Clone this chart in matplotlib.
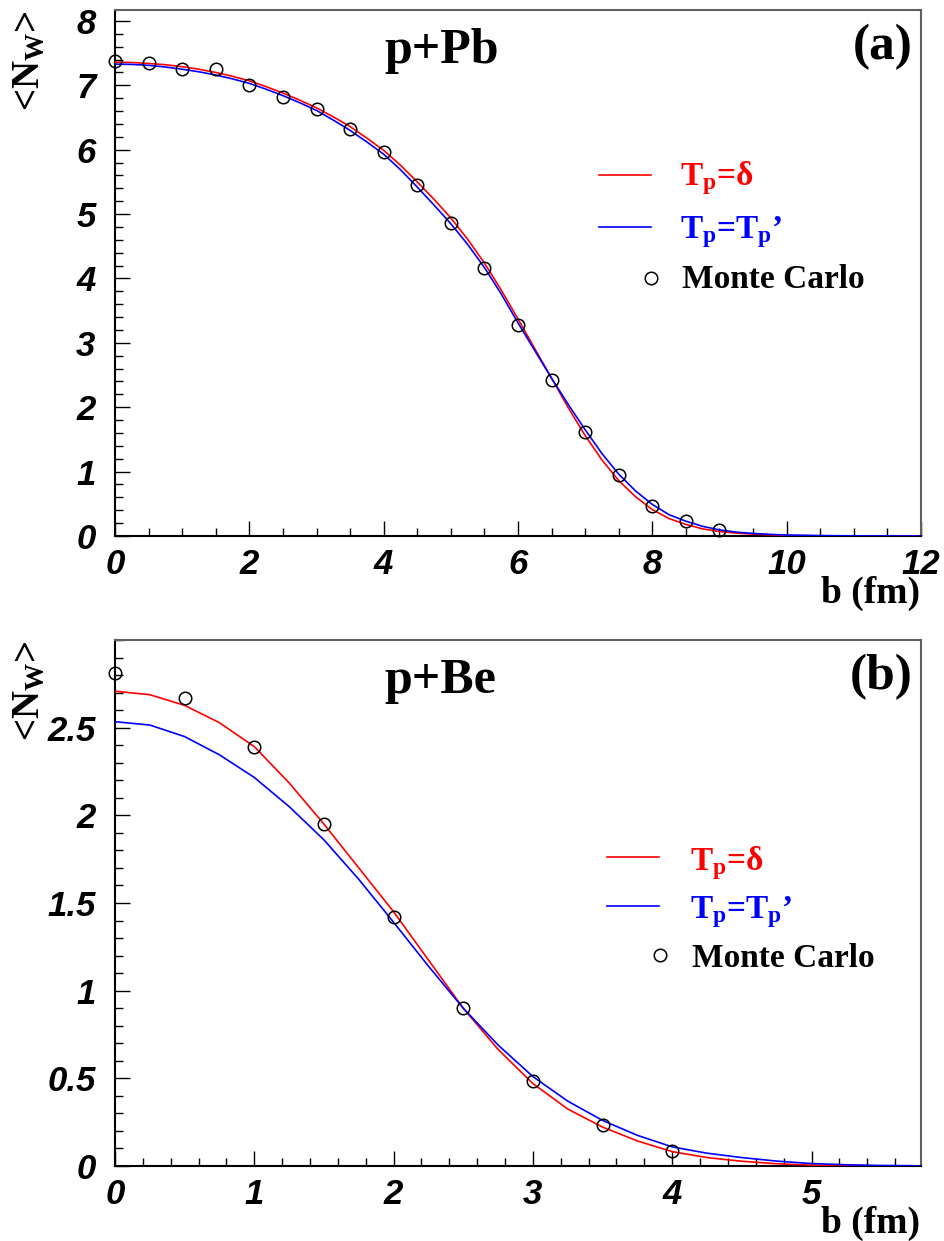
import matplotlib
matplotlib.use("Agg")
import matplotlib.pyplot as plt
from matplotlib.ticker import MultipleLocator, FixedLocator, FormatStrFormatter
from matplotlib.lines import Line2D

# ---------------- data ----------------
# p+Pb : mean number of wounded nucleons vs impact parameter
b_pb = [0, 0.25, 0.5, 0.75, 1.0, 1.25, 1.5, 1.75, 2.0, 2.25, 2.5, 2.75, 3.0, 3.25,
        3.5, 3.75, 4.0, 4.25, 4.5, 4.75, 5.0, 5.25, 5.5, 5.75, 6.0, 6.25, 6.5, 6.75,
        7.0, 7.25, 7.5, 7.75, 8.0, 8.25, 8.5, 8.75, 9.0, 9.25, 9.5, 9.75, 10.0, 10.5,
        11.0, 12.0]
nw_pb_delta = [7.36, 7.355, 7.34, 7.32, 7.29, 7.25, 7.20, 7.14, 7.07, 6.98, 6.88, 6.77,
               6.65, 6.51, 6.36, 6.18, 5.99, 5.76, 5.50, 5.23, 4.94, 4.61, 4.24, 3.82,
               3.37, 2.91, 2.45, 1.99, 1.56, 1.18, 0.86, 0.61, 0.41, 0.27, 0.18, 0.11,
               0.07, 0.045, 0.03, 0.018, 0.01, 0.003, 0.001, 0.0]
nw_pb_prof = [7.33, 7.325, 7.31, 7.285, 7.25, 7.21, 7.16, 7.10, 7.03, 6.94, 6.84, 6.73,
              6.61, 6.46, 6.30, 6.12, 5.93, 5.69, 5.42, 5.14, 4.85, 4.53, 4.17, 3.76,
              3.31, 2.88, 2.45, 2.04, 1.65, 1.28, 0.96, 0.70, 0.49, 0.33, 0.23, 0.15,
              0.095, 0.06, 0.04, 0.025, 0.015, 0.006, 0.002, 0.0]
b_pb_mc = [0, 0.5, 1.0, 1.5, 2.0, 2.5, 3.0, 3.5, 4.0, 4.5, 5.0, 5.5, 6.0, 6.5, 7.0,
           7.5, 8.0, 8.5, 9.0]
nw_pb_mc = [7.38, 7.35, 7.26, 7.25, 7.01, 6.82, 6.63, 6.32, 5.96, 5.45, 4.86, 4.16,
            3.28, 2.42, 1.61, 0.95, 0.47, 0.23, 0.09]

# p+Be
b_be = [0, 0.25, 0.5, 0.75, 1.0, 1.25, 1.5, 1.75, 2.0, 2.25, 2.5, 2.75, 3.0, 3.25,
        3.5, 3.75, 4.0, 4.25, 4.5, 4.75, 5.0, 5.25, 5.5, 5.79]
nw_be_delta = [2.708, 2.688, 2.627, 2.528, 2.392, 2.185, 1.950, 1.700, 1.450, 1.175,
               0.900, 0.665, 0.470, 0.325, 0.222, 0.143, 0.082, 0.048, 0.027, 0.013,
               0.005, 0.002, 0.0005, 0.0]
nw_be_prof = [2.534, 2.515, 2.449, 2.345, 2.216, 2.050, 1.860, 1.635, 1.390, 1.140,
              0.900, 0.690, 0.510, 0.370, 0.260, 0.175, 0.109, 0.073, 0.048, 0.028,
              0.014, 0.007, 0.003, 0.001]
b_be_mc = [0, 0.5, 1.0, 1.5, 2.0, 2.5, 3.0, 3.5, 4.0]
nw_be_mc = [2.81, 2.67, 2.39, 1.95, 1.42, 0.90, 0.485, 0.233, 0.086]

pb_yticks = [0, 1, 2, 3, 4, 5, 6, 7, 8]
be_yticks = [0, 0.5, 1, 1.5, 2, 2.5]

# ---------------- style ----------------
plt.rcParams["font.family"] = ["Liberation Sans", "DejaVu Sans"]
plt.rcParams["font.weight"] = "bold"
plt.rcParams["font.style"] = "italic"
plt.rcParams["mathtext.fontset"] = "custom"
plt.rcParams["mathtext.rm"] = "Liberation Serif:style=normal:weight=bold"
plt.rcParams["mathtext.bf"] = "Liberation Serif:style=normal:weight=bold"
plt.rcParams["mathtext.it"] = "Liberation Serif:style=normal:weight=bold"

W, H = 944, 1241
fig = plt.figure(figsize=(W / 100, H / 100), dpi=100)


def fx(px):
    return px / W


def fy(py):
    return 1 - py / H


SERIF = dict(family=["Liberation Serif", "DejaVu Serif"], weight="bold", style="normal")


def make_axes(top, bottom, xmax, ymax, xmajor, xminor, yticks, yminor, fmt):
    ax = fig.add_axes([fx(115), fy(bottom), fx(921) - fx(115), fy(top) - fy(bottom)])
    ax.set_xlim(0, xmax)
    ax.set_ylim(0, ymax)
    ax.xaxis.set_major_locator(MultipleLocator(xmajor))
    ax.xaxis.set_minor_locator(MultipleLocator(xminor))
    ax.yaxis.set_major_locator(FixedLocator(yticks))
    ax.yaxis.set_minor_locator(MultipleLocator(yminor))
    ax.xaxis.set_major_formatter(FormatStrFormatter("%g"))
    ax.yaxis.set_major_formatter(FormatStrFormatter(fmt))
    ax.tick_params(which="both", direction="in", top=False, right=False, width=1,
                   labelsize=25, colors="black")
    ax.tick_params(which="major", length=11)
    ax.tick_params(which="minor", length=6)
    ax.tick_params(axis="x", which="major", pad=9)
    ax.tick_params(axis="y", which="major", pad=14)
    for s in ("left", "bottom"):
        ax.spines[s].set_linewidth(1.5)
        ax.spines[s].set_color("black")
    for s in ("top", "right"):
        ax.spines[s].set_linewidth(1.5)
        ax.spines[s].set_color("#606060")
    return ax


def legend(x_line0, x_line1, y_red, y_blue, y_mc, x_text, base_red, base_blue, base_mc, x_mc):
    fig.add_artist(Line2D([fx(x_line0), fx(x_line1)], [fy(y_red)] * 2, color="#ff0000",
                          lw=1.2, transform=fig.transFigure))
    fig.add_artist(Line2D([fx(x_line0), fx(x_line1)], [fy(y_blue)] * 2, color="#0000ff",
                          lw=1.2, transform=fig.transFigure))
    fig.add_artist(Line2D([fx(x_mc)], [fy(y_mc)], marker="o", ms=9, mfc="none", mec="black",
                          mew=1.1, ls="none", transform=fig.transFigure))
    fig.text(fx(x_text), fy(base_red), r"T$_{\mathrm{p}}$=δ", color="#ff0000",
             fontsize=24, va="baseline", **SERIF)
    fig.text(fx(x_text), fy(base_blue), r"T$_{\mathrm{p}}$=T$_{\mathrm{p}}$’", color="#0000ff",
             fontsize=24, va="baseline", **SERIF)
    fig.text(fx(x_text + 2), fy(base_mc), "Monte Carlo", color="black",
             fontsize=24, va="baseline", **SERIF)


# ---------------- (a) p+Pb ----------------
ax1 = make_axes(10, 536, 12, 8.17, 2, 0.5, pb_yticks, 0.2, "%g")
ax1.plot(b_pb, nw_pb_delta, color="#ff0000", lw=1.2, zorder=3)
ax1.plot(b_pb, nw_pb_prof, color="#0000ff", lw=1.2, zorder=3)
ax1.plot(b_pb_mc, nw_pb_mc, ls="none", marker="o", ms=9, mfc="none", mec="black",
         mew=1.1, zorder=4, clip_on=False)

fig.text(fx(384), fy(63), "p+Pb", fontsize=36, va="baseline", **SERIF)
fig.text(fx(913), fy(59), "(a)", fontsize=37, ha="right", va="baseline", **SERIF)
fig.text(fx(30), fy(10), r"<N$_{\mathrm{W}}$>", rotation=90, ha="center", va="top",
         fontsize=28, **SERIF)
fig.text(fx(920), fy(603), "b (fm)", ha="right", va="baseline", fontsize=27, **SERIF)
legend(599, 651, 175, 227, 278, 680, 185, 238, 288, 651)

# ---------------- (b) p+Be ----------------
ax2 = make_axes(640, 1166, 5.786, 3.0, 1, 0.2, be_yticks, 0.1, "%g")
ax2.plot(b_be, nw_be_delta, color="#ff0000", lw=1.2, zorder=3)
ax2.plot(b_be, nw_be_prof, color="#0000ff", lw=1.2, zorder=3)
ax2.plot(b_be_mc, nw_be_mc, ls="none", marker="o", ms=9, mfc="none", mec="black",
         mew=1.1, zorder=4, clip_on=False)

fig.text(fx(384), fy(693), "p+Be", fontsize=36, va="baseline", **SERIF)
fig.text(fx(913), fy(689), "(b)", fontsize=37, ha="right", va="baseline", **SERIF)
fig.text(fx(30), fy(640), r"<N$_{\mathrm{W}}$>", rotation=90, ha="center", va="top",
         fontsize=28, **SERIF)
fig.text(fx(920), fy(1233), "b (fm)", ha="right", va="baseline", fontsize=27, **SERIF)
legend(607, 659, 857, 906, 955, 690, 870, 918, 967, 660)

fig.savefig("out.png", dpi=100)
